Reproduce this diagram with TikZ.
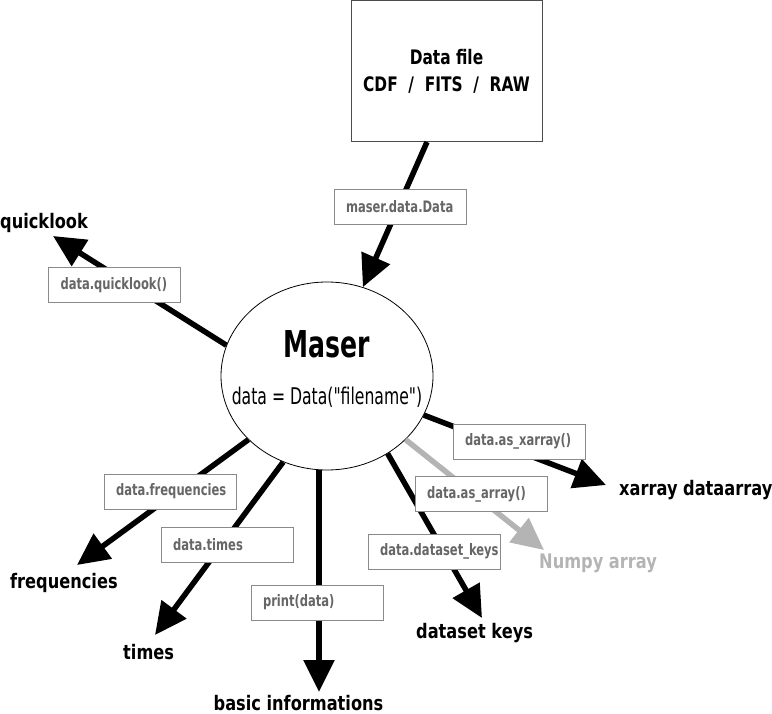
\documentclass[tikz,border=0pt]{standalone}
\usepackage{fontspec}
\setmainfont{DejaVu Sans}
\newfontfamily\masernarrow[FakeStretch=0.68]{DejaVu Sans}
\newfontfamily\callnarrow[FakeStretch=0.73]{DejaVu Sans}
\newfontfamily\filenarrow[FakeStretch=0.77]{DejaVu Sans}
\newfontfamily\resultnarrow[FakeStretch=0.81]{DejaVu Sans}
\usepackage{tikz}
\usetikzlibrary{positioning,arrows.meta,shapes.geometric}
\definecolor{callgray}{HTML}{666666}
\definecolor{boxgray}{HTML}{8A8A8A}
\definecolor{numpygray}{HTML}{B4B4B4}

\begin{document}
\begin{tikzpicture}[x=1pt,y=-1pt,
    conn/.style={line width=5.5pt,-{Triangle[length=32pt,width=30pt]}},
    callbox/.style={draw=boxgray,fill=white,line width=1pt,text width=108pt,align=left,
        inner xsep=12pt,inner ysep=0pt,minimum height=35pt,text=callgray,
        font=\callnarrow\bfseries\fontsize{15.8}{18}\selectfont},
    result/.style={inner sep=0pt,font=\resultnarrow\bfseries\fontsize{20}{24}\selectfont}]
    \path[use as bounding box] (0,0) rectangle (772,714);
    %%%%% THE FILE AND THE MASER ELLIPSE
    \node[draw=black!70,line width=1pt,minimum width=191pt,minimum height=141pt,align=center,
        font=\filenarrow\bfseries\fontsize{20}{27}\selectfont] (datafile) at (446.5,71)
        {Data file\\CDF~~/~~FITS~~/~~RAW};
    \node[ellipse,draw,line width=0.8pt,minimum width=212pt,minimum height=188pt] (maser) at (327,376) {};
    \node[font=\masernarrow\bfseries\fontsize{37}{44}\selectfont] (title) at (327,344) {Maser};
    \node[font=\masernarrow\fontsize{23}{28}\selectfont] (opening) at (327,397) {data = Data("filename")};
    %%%%% THE RESULTS
    \node[result,anchor=west] (quicklook) at (0,223) {quicklook};
    \node[result,anchor=west] (frequencies) at (10,583) {frequencies};
    \node[result,anchor=west] (times) at (123,652) {times};
    \node[result] (informations) at (298.5,703) {basic informations};
    \node[result,anchor=west] (keys) at (416,633) {dataset keys};
    \node[result,anchor=west,text=numpygray] (numpy) at (539,563) {Numpy array};
    \node[result,anchor=west] (xarray) at (619,490) {xarray dataarray};
    % arrow tips next to the results
    \coordinate (qltip) at (53,236);
    \coordinate (freqtip) at (77,565);
    \coordinate (timestip) at (155,635);
    \coordinate (infotip) at (319,692);
    \coordinate (keystip) at (482,618);
    \coordinate (numpytip) at (544,550);
    \coordinate (xarraytip) at (606,485);
    %%%%% THE ARROWS
    \draw[conn] ([xshift=-19.5pt]datafile.south) -- (maser.68);
    \draw[conn] (maser.163) -- (qltip);
    \draw[conn] (maser.219) -- (freqtip);
    \draw[conn] (maser.243) -- (timestip);
    \draw[conn] (maser.south -| infotip) -- (infotip);
    \draw[conn] (maser.308) -- (keystip);
    \draw[conn,numpygray] (maser.321) -- (numpytip);
    \draw[conn] (maser.338) -- (xarraytip);
    %%%%% THE CALLS ON THE ARROWS
    \node[callbox] (opencall) at (400,207) {maser.data.Data};
    \node[callbox] (qlcall) at (114.5,285.5) {data.quicklook()};
    \node[callbox] (freqcall) at (170,491.5) {data.frequencies};
    \node[callbox] (timescall) at (227,544.5) {data.times};
    \node[callbox] (printcall) at (317,602.5) {print(data)};
    \node[callbox] (keyscall) at (434,551.5) {data.dataset\_keys};
    \node[callbox] (arraycall) at (481,494) {data.as\_array()};
    \node[callbox] (xarraycall) at (519,441.5) {data.as\_xarray()};
\end{tikzpicture}
\end{document}
